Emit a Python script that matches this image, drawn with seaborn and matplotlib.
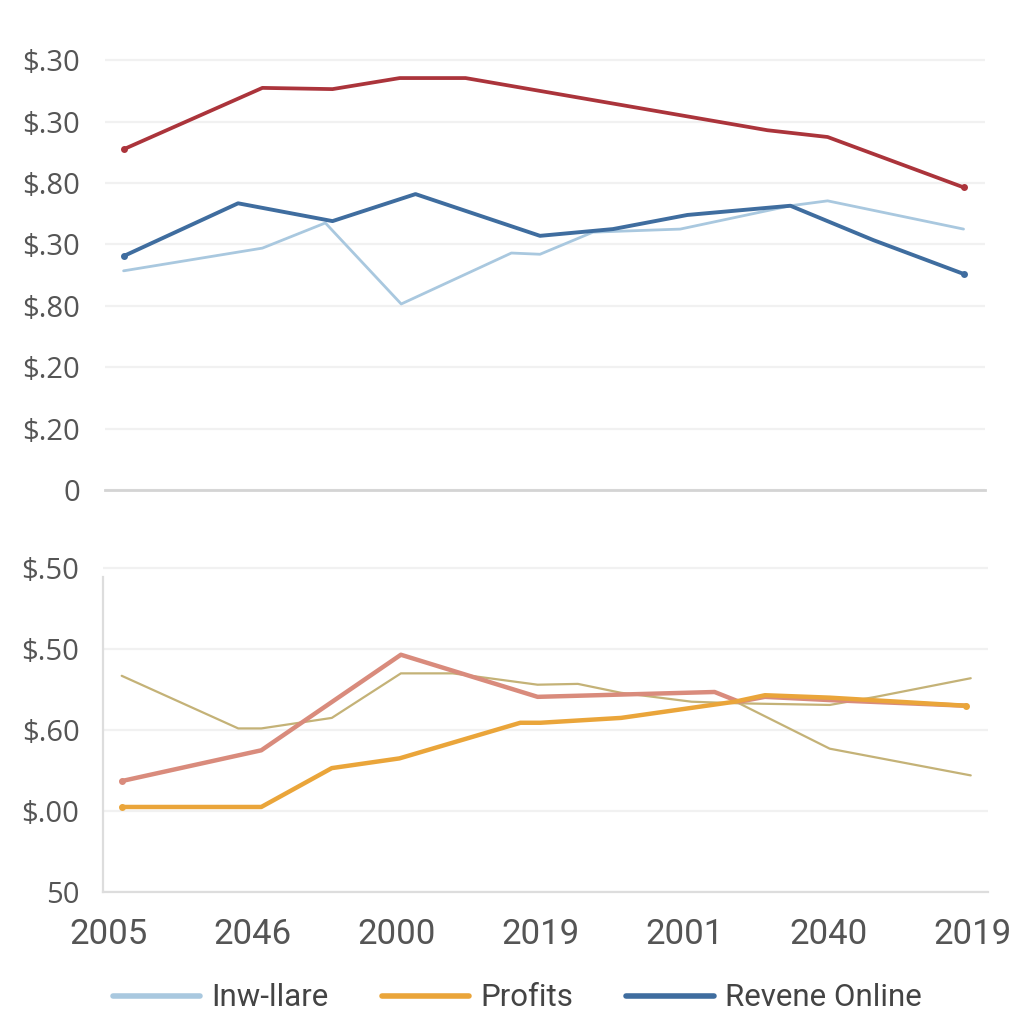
import matplotlib
matplotlib.use("Agg")
import matplotlib.pyplot as plt
import seaborn as sns

sns.set_theme(style="white")
plt.rcParams["font.family"] = ["Open Sans", "DejaVu Sans"]

# ---- data (x in category-position units) ----
x_labels = ["2005", "2046", "2000", "2019", "2001", "2040", "2019"]
top_ticklabels = ["0", "$.20", "$.20", "$.80", "$.30", "$.80", "$.30", "$.30"]
bot_ticklabels = ["50", "$.00", "$.60", "$.50", "$.50"]

red_x = [0.09, 1.06, 1.55, 2.02, 2.48, 4.59, 5.01, 5.96]
red_y = [5.55, 6.55, 6.53, 6.71, 6.71, 5.86, 5.75, 4.93]

online_x = [0.09, 0.89, 1.55, 2.13, 3.0, 3.51, 4.03, 4.75, 5.33, 5.96]
online_y = [3.81, 4.67, 4.38, 4.82, 4.14, 4.25, 4.48, 4.63, 4.07, 3.52]

inw_x = [0.09, 1.06, 1.50, 2.03, 2.80, 3.0, 3.37, 3.98, 4.75, 5.01, 5.96]
inw_y = [3.57, 3.94, 4.35, 3.03, 3.86, 3.84, 4.20, 4.25, 4.63, 4.71, 4.25]

profits_x = [0.09, 1.06, 1.55, 2.02, 2.86, 3.0, 3.56, 4.35, 4.56, 5.01, 5.96]
profits_y = [1.05, 1.05, 1.53, 1.65, 2.09, 2.09, 2.15, 2.35, 2.43, 2.40, 2.30]

pink_x = [0.09, 1.06, 2.03, 2.98, 4.21, 4.38, 4.56, 5.01, 5.96]
pink_y = [1.37, 1.75, 2.93, 2.41, 2.47, 2.35, 2.41, 2.37, 2.30]

thinA_x = [0.09, 0.90, 1.06, 1.55, 2.03, 2.39, 2.98, 3.26, 3.56, 4.05, 4.38, 5.01, 5.99]
thinA_y = [2.67, 2.02, 2.02, 2.15, 2.70, 2.70, 2.56, 2.57, 2.46, 2.35, 2.33, 1.77, 1.44]

thinB_x = [4.38, 5.01, 5.33, 5.99]
thinB_y = [2.33, 2.31, 2.41, 2.64]

C_RED = "#ab343b"
C_DARK = "#3f6d9f"
C_LIGHT = "#a9c8df"
C_ORANGE = "#eaa53a"
C_PINK = "#d98b7c"
C_THIN = "#c4b277"
TXT = "#555555"

fig = plt.figure(figsize=(10.24, 10.24), dpi=100)
fig.patch.set_facecolor("white")
ax1 = fig.add_axes([105 / 1024, 1 - 490 / 1024, 880 / 1024, 450 / 1024])
ax2 = fig.add_axes([103 / 1024, 1 - 892 / 1024, 885 / 1024, 332 / 1024])

xlim = (-0.04, 6.11)

# ---- top panel ----
sns.lineplot(x=red_x, y=red_y, ax=ax1, color=C_RED, lw=2.7, estimator=None,
             marker="o", markersize=5, markevery=[0, len(red_x) - 1], markeredgewidth=0)
sns.lineplot(x=inw_x, y=inw_y, ax=ax1, color=C_LIGHT, lw=2.0, estimator=None,
             label="Inw-llare")
sns.lineplot(x=online_x, y=online_y, ax=ax1, color=C_DARK, lw=2.8, estimator=None,
             marker="o", markersize=5, markevery=[0, len(online_x) - 1], markeredgewidth=0,
             label="Revene Online")
ax1.set_xlim(*xlim)
ax1.set_ylim(0, 7.33)
ax1.set_yticks(range(len(top_ticklabels)))
ax1.set_yticklabels(top_ticklabels)
ax1.set_xticks([])
for s in ["top", "right", "left"]:
    ax1.spines[s].set_visible(False)
ax1.spines["bottom"].set_color("#d4d4d4")
ax1.spines["bottom"].set_linewidth(2)
ax1.grid(axis="y", color="#f1f1f1", lw=1.6)
ax1.tick_params(axis="y", length=0, pad=18, labelsize=21, labelcolor=TXT)

# ---- bottom panel ----
sns.lineplot(x=thinA_x, y=thinA_y, ax=ax2, color=C_THIN, lw=1.6, estimator=None)
sns.lineplot(x=thinB_x, y=thinB_y, ax=ax2, color=C_THIN, lw=1.6, estimator=None)
sns.lineplot(x=pink_x, y=pink_y, ax=ax2, color=C_PINK, lw=3.2, estimator=None,
             marker="o", markersize=5, markevery=[0], markeredgewidth=0)
sns.lineplot(x=profits_x, y=profits_y, ax=ax2, color=C_ORANGE, lw=3.2, estimator=None,
             marker="o", markersize=5, markevery=[0, len(profits_x) - 1], markeredgewidth=0,
             label="Profits")
ax2.set_xlim(*xlim)
ax2.set_ylim(0, 4.1)
ax2.set_yticks(range(len(bot_ticklabels)))
ax2.set_yticklabels(bot_ticklabels)
ax2.set_xticks(range(len(x_labels)))
ax2.set_xticklabels(x_labels, fontsize=25, color=TXT, family=["Roboto", "DejaVu Sans"])
for s in ["top", "right"]:
    ax2.spines[s].set_visible(False)
for s in ["left", "bottom"]:
    ax2.spines[s].set_color("#dddddd")
    ax2.spines[s].set_linewidth(1.6)
ax2.spines["left"].set_bounds(0, 3.89)
ax2.grid(axis="y", color="#f1f1f1", lw=1.6)
ax2.tick_params(axis="y", length=0, pad=17, labelsize=21, labelcolor=TXT)
ax2.tick_params(axis="x", length=0, pad=19)

# ---- legend ----
h1, l1 = ax1.get_legend_handles_labels()
h2, l2 = ax2.get_legend_handles_labels()
hd = dict(zip(l1 + l2, h1 + h2))
order = ["Inw-llare", "Profits", "Revene Online"]
for a in (ax1, ax2):
    if a.get_legend():
        a.get_legend().remove()
leg = fig.legend([hd[k] for k in order], order, loc="center", bbox_to_anchor=(0.505, 1 - 998 / 1024),
                 ncol=3, frameon=False, handlelength=2.8, columnspacing=1.7,
                 handletextpad=0.35, prop={"family": ["Roboto", "DejaVu Sans"], "size": 22.5})
for line in leg.get_lines():
    line.set_linewidth(4)
    line.set_marker("")
for t in leg.get_texts():
    t.set_color("#444444")

fig.savefig("out.png", dpi=100, facecolor="white")
